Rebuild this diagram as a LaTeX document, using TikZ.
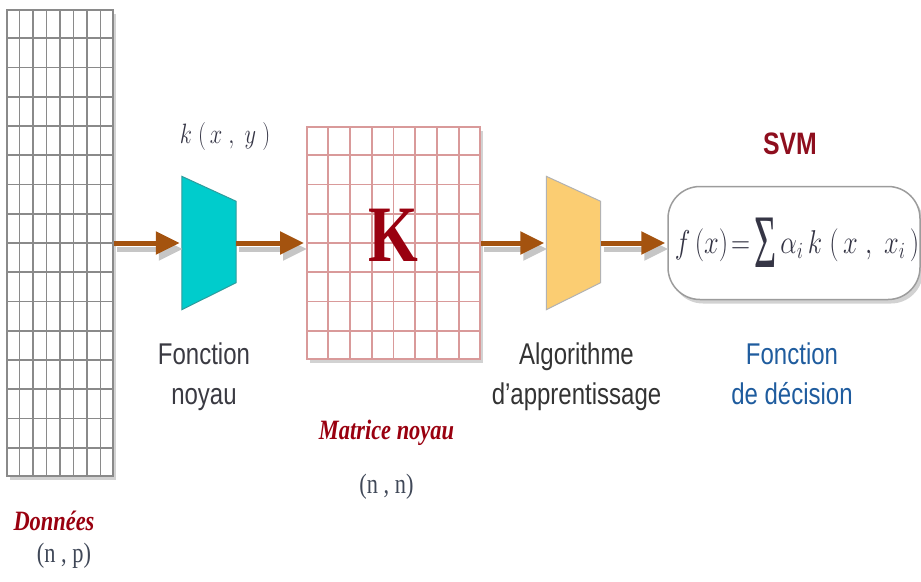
\RequirePackage{fix-cm}
\documentclass[tikz,border=0pt]{standalone}
\usepackage{fontspec}
\setmainfont{Liberation Serif}
\setsansfont{Liberation Sans}
\usetikzlibrary{arrows.meta,positioning,calc,shadows}
\definecolor{gridgray}{HTML}{8A8A8A}
\definecolor{kpink}{HTML}{D99A9A}
\definecolor{kred}{HTML}{99000F}
\definecolor{kerncyan}{HTML}{00CCCC}
\definecolor{kernedge}{HTML}{2F9C9C}
\definecolor{algoorange}{HTML}{FBCD72}
\definecolor{flowbrown}{HTML}{A4530F}
\definecolor{labelgray}{HTML}{3A3A42}
\definecolor{decblue}{HTML}{1F5C9E}
\definecolor{svmred}{HTML}{8E0E1E}
\definecolor{boxgray}{HTML}{9C9C9C}
\definecolor{mathgray}{HTML}{353545}
\definecolor{dimgray}{HTML}{404858}
\newcommand{\narrow}[1]{\scalebox{0.8}[1]{#1}}

\begin{document}
\begin{tikzpicture}[x=1pt,y=-1pt,
   lbl/.style={font=\sffamily\fontsize{30}{40}\selectfont,text=labelgray,align=center,inner sep=0pt},
   tag/.style={font=\fontsize{28}{32}\selectfont\bfseries\itshape,text=kred,inner sep=0pt},
   dims/.style={font=\fontsize{28}{32}\selectfont,text=dimgray,inner sep=0pt},
   dgrid/.style={draw=gridgray,line width=1.8pt},
   kgrid/.style={draw=kpink,line width=1.8pt},
   funnel/.style={inner sep=0pt,minimum width=54pt,minimum height=133pt},
   boxshadow/.style={drop shadow={shadow xshift=3pt,shadow yshift=-4pt,fill=gray!35,opacity=1}},
   flow/.style={draw=flowbrown,line width=5pt,shorten >=2pt,-{Triangle[length=24pt,width=22pt]}},
   flowshade/.style={flow,draw=gray!45,transform canvas={xshift=3pt,yshift=-6pt}}]
  \useasboundingbox (0,0) rectangle (921,581);

  \node[dgrid,fill=white,boxshadow,minimum width=106pt,minimum height=466pt,inner sep=0pt] (data) at (60,243) {};
  \foreach \i in {1,...,7}
    \draw[dgrid] ($(data.north west)!\i/8!(data.north east)$) -- ($(data.south west)!\i/8!(data.south east)$);
  \foreach \j in {1,...,15}
    \draw[dgrid] ($(data.north west)!\j/16!(data.south west)$) -- ($(data.north east)!\j/16!(data.south east)$);

  \node[funnel] (kern) at (209,243) {};
  \filldraw[fill=kerncyan,draw=kernedge,line width=1pt] (kern.north west) -- ($(kern.north east)+(0,25)$)
    -- ($(kern.south east)+(0,-27)$) -- (kern.south west) -- cycle;

  \node[kgrid,fill=white,boxshadow,minimum width=173pt,minimum height=232pt,inner sep=0pt] (kmat) at (393.5,243) {};
  \foreach \i in {1,...,7} {
    \draw[kgrid] ($(kmat.north west)!\i/8!(kmat.north east)$) -- ($(kmat.south west)!\i/8!(kmat.south east)$);
    \draw[kgrid] ($(kmat.north west)!\i/8!(kmat.south west)$) -- ($(kmat.north east)!\i/8!(kmat.south east)$);
  }
  \node[font=\bfseries\fontsize{80}{80}\selectfont,text=kred,inner sep=0pt] (kletter) at ([yshift=8pt]kmat.center) {\narrow{K}};

  \node[funnel] (algo) at (573.5,243) {};
  \filldraw[fill=algoorange,draw=gray!60,line width=1pt] (algo.north west) -- ($(algo.north east)+(0,25)$)
    -- ($(algo.south east)+(0,-27)$) -- (algo.south west) -- cycle;

  \node[draw=boxgray,line width=1.5pt,fill=white,rounded corners=32pt,boxshadow,minimum width=252pt,
        minimum height=113pt,inner sep=0pt,text=mathgray,font=\fontsize{33}{33}\selectfont] (decision) at (794,243)
    {\hspace*{6pt}\narrow{$f\,(x)\!=$\hspace{5pt}\raisebox{-14pt}{\scalebox{0.85}[1.35]{\fontsize{56}{56}\selectfont Σ}}\hspace{5pt}$\alpha_i\,k\;(\,x\;,\;x_i\,)$}};

  \foreach \a/\b in {data/kern,kern/kmat,kmat/algo,algo/decision} {
    \draw[flowshade] (\a.east) -- (\b.west);
    \draw[flow] (\a.east) -- (\b.west);
  }

  \node[font=\fontsize{28}{28}\selectfont,text=mathgray,inner sep=0pt,above=26pt of kern,xshift=16pt] (kxy)
    {\narrow{$k\;(\,x\;,\;y\;)$}};
  \node[lbl,below=33pt of kern,xshift=-5pt] (kernlbl) {\narrow{Fonction}\\\narrow{noyau}};
  \node[lbl,text=black!80,below=33pt of algo,xshift=3pt] (algolbl) {\narrow{Algorithme}\\\narrow{d'apprentissage}};
  \node[lbl,text=decblue,below=42pt of decision,xshift=-2pt] (declbl) {\narrow{Fonction}\\\narrow{de décision}};
  \node[font=\sffamily\bfseries\fontsize{31}{31}\selectfont,text=svmred,inner sep=0pt,above=31pt of decision,xshift=-4pt] (svm)
    {\narrow{SVM}};

  \node[tag,below=60pt of kmat,xshift=-7pt] (kmatlbl) {\narrow{Matrice noyau}};
  \node[dims,below=28pt of kmatlbl] (kdims) {\narrow{(n , n)}};
  \node[tag,below=34pt of data,xshift=-6pt] (datalbl) {\narrow{Données}};
  \node[dims,below=12pt of datalbl,xshift=10pt] (datadims) {\narrow{(n , p)}};
\end{tikzpicture}
\end{document}
